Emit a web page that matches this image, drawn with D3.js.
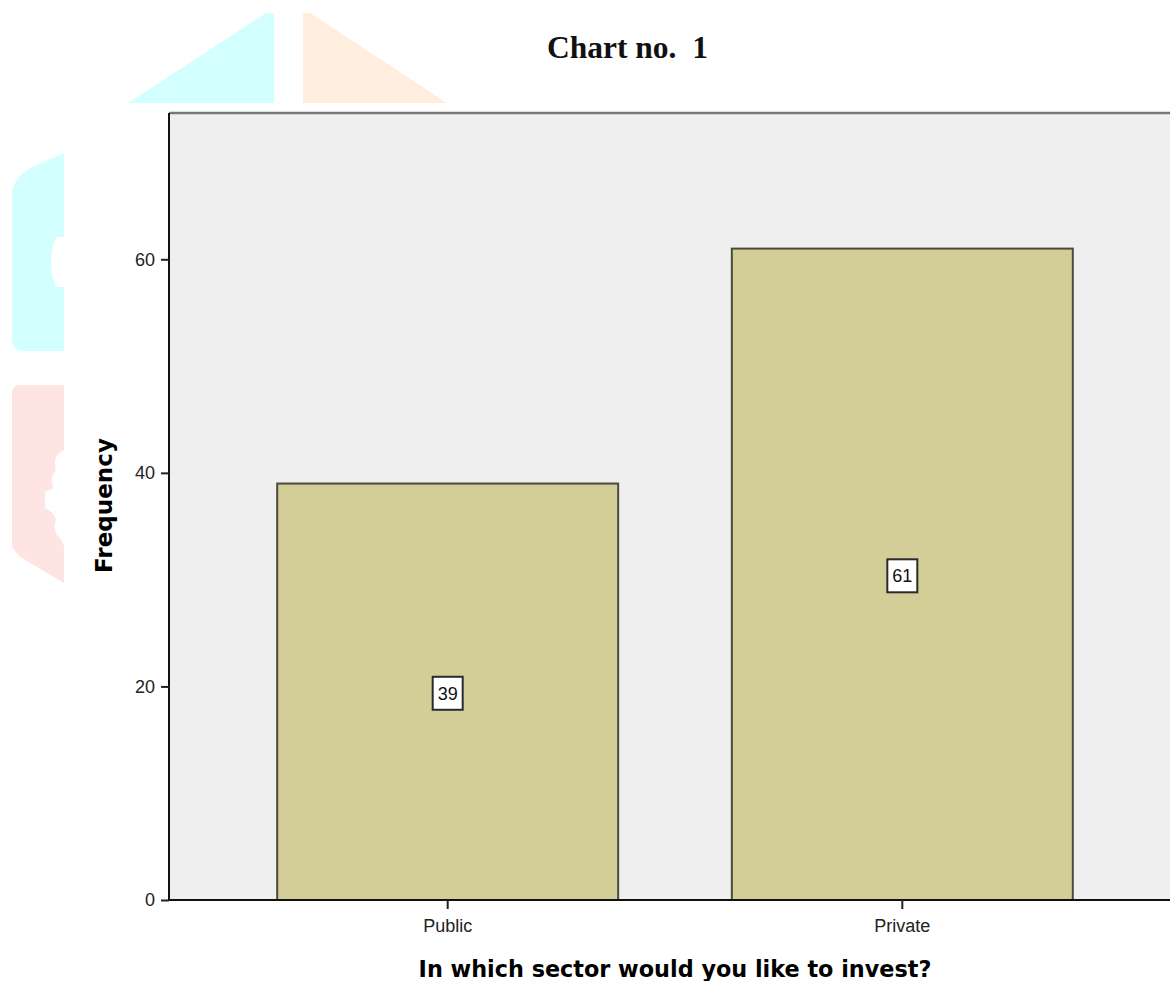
<!DOCTYPE html>
<html>
<head>
<meta charset="utf-8">
<script src="https://cdn.jsdelivr.net/npm/d3@7/dist/d3.min.js"></script>
<style>
  html, body { margin: 0; padding: 0; background: #ffffff; }
  svg { display: block; }
</style>
</head>
<body>
<svg id="chart" width="1170" height="981"></svg>
<script>
// ---- data ----
const categories = ["Public", "Private"];
const frequencies = [39, 61];
const yTicks = [0, 20, 40, 60];
const chartTitle = "Chart no.  1";
const xTitle = "In which sector would you like to invest?";
const yTitle = "Frequency";

// ---- layout ----
const W = 1170, H = 981;
const plot = { left: 169, right: 1181, top: 113, bottom: 900 };
const svg = d3.select("#chart");

// background watermark decorations (faint shapes in the reference)
const deco = svg.append("g").attr("class", "watermark");
deco.append("path").attr("d", "M128,103 L266,13 L274,13 L274,103 Z").attr("fill", "#d4ffff");
deco.append("path").attr("d", "M303,103 L303,13 L310,13 L447,103 Z").attr("fill", "#ffeedd");
deco.append("path")
  .attr("d", "M12,192 Q14,178 30,168 L64,153 L64,237 L56,237 Q46,262 56,287 L64,287 L64,351 L22,351 Q12,349 12,340 Z")
  .attr("fill", "#d4ffff");
deco.append("path")
  .attr("d", "M12,392 Q13,385 20,385 L64,385 L64,450 Q52,455 56,470 Q48,480 54,488 L45,492 L45,508 Q54,512 56,520 Q52,532 60,538 L64,545 L64,583 L20,557 L12,547 Z")
  .attr("fill", "#ffe4e4");

// ---- scales ----
const x = d3.scaleBand()
  .domain(categories)
  .range([plot.left, plot.right])
  .paddingInner(0.25)
  .paddingOuter(0.238);

const y = d3.scaleLinear()
  .domain([0, 73.7])
  .range([plot.bottom, plot.top]);

// plot background
svg.append("rect")
  .attr("x", plot.left).attr("y", plot.top)
  .attr("width", plot.right - plot.left).attr("height", plot.bottom - plot.top)
  .attr("fill", "#efefef");

// top border
svg.append("line")
  .attr("x1", plot.left).attr("x2", plot.right)
  .attr("y1", plot.top).attr("y2", plot.top)
  .attr("stroke", "#777777").attr("stroke-width", 2.5);

// bars
const data = categories.map((c, i) => ({ cat: c, val: frequencies[i] }));
svg.append("g").selectAll("rect")
  .data(data)
  .join("rect")
  .attr("x", d => x(d.cat))
  .attr("y", d => y(d.val))
  .attr("width", x.bandwidth())
  .attr("height", d => y(0) - y(d.val))
  .attr("fill", "#d3ce97")
  .attr("stroke", "#4a4a40")
  .attr("stroke-width", 2);

// y axis
const yAxis = svg.append("g")
  .attr("transform", `translate(${plot.left},0)`)
  .call(d3.axisLeft(y).tickValues(yTicks).tickSize(8).tickPadding(6).tickFormat(d3.format("d")));
yAxis.select(".domain").attr("stroke", "#111").attr("stroke-width", 2)
  .attr("d", `M0,${plot.top}V${plot.bottom}`);
yAxis.selectAll(".tick line").attr("stroke", "#222").attr("stroke-width", 2);
yAxis.selectAll(".tick text")
  .attr("font-family", "'Liberation Sans', Arial, sans-serif")
  .attr("font-size", 18).attr("fill", "#222");

// x axis
const xAxis = svg.append("g")
  .attr("transform", `translate(0,${plot.bottom})`)
  .call(d3.axisBottom(x).tickSize(9).tickPadding(10));
xAxis.select(".domain").attr("stroke", "#111").attr("stroke-width", 2)
  .attr("d", `M${plot.left},0H${plot.right}`);
xAxis.selectAll(".tick line").attr("stroke", "#222").attr("stroke-width", 2);
xAxis.selectAll(".tick text")
  .attr("font-family", "'Liberation Sans', Arial, sans-serif")
  .attr("font-size", 18).attr("fill", "#222");

// value labels in boxes
const lbl = svg.append("g").selectAll("g")
  .data(data)
  .join("g")
  .attr("transform", d => `translate(${x(d.cat) + x.bandwidth() / 2},${y(d.val / 2) + 1.5})`);
lbl.append("rect")
  .attr("x", -15).attr("y", -16.5).attr("width", 30).attr("height", 33)
  .attr("fill", "#ffffff").attr("stroke", "#2a2a2a").attr("stroke-width", 2);
lbl.append("text")
  .attr("text-anchor", "middle").attr("dy", "0.36em")
  .attr("font-family", "'Liberation Sans', Arial, sans-serif")
  .attr("font-size", 18).attr("fill", "#111")
  .text(d => d.val);

// fit helper
function fit(sel, target) {
  const len = sel.node().getComputedTextLength();
  const fs = parseFloat(sel.attr("font-size"));
  sel.attr("font-size", (fs * target / len).toFixed(2));
}

// chart title
const t = svg.append("text")
  .attr("x", 627.5).attr("y", 58)
  .attr("text-anchor", "middle")
  .attr("font-family", "'Liberation Serif', 'Times New Roman', serif")
  .attr("font-weight", "bold").attr("font-size", 32)
  .style("white-space", "pre").attr("xml:space", "preserve")
  .attr("fill", "#111")
  .text(chartTitle);
fit(t, 161);

// x title
const xt = svg.append("text")
  .attr("x", (plot.left + plot.right) / 2).attr("y", 977)
  .attr("text-anchor", "middle")
  .attr("font-family", "'DejaVu Sans', Verdana, sans-serif")
  .attr("font-weight", "bold").attr("font-size", 20)
  .attr("fill", "#000")
  .text(xTitle);
fit(xt, 513);

// y title
const yt = svg.append("text")
  .attr("transform", `translate(112,505.5) rotate(-90)`)
  .attr("text-anchor", "middle")
  .attr("font-family", "'DejaVu Sans', Verdana, sans-serif")
  .attr("font-weight", "bold").attr("font-size", 20)
  .attr("fill", "#000")
  .text(yTitle);
fit(yt, 135);
</script>
</body>
</html>
